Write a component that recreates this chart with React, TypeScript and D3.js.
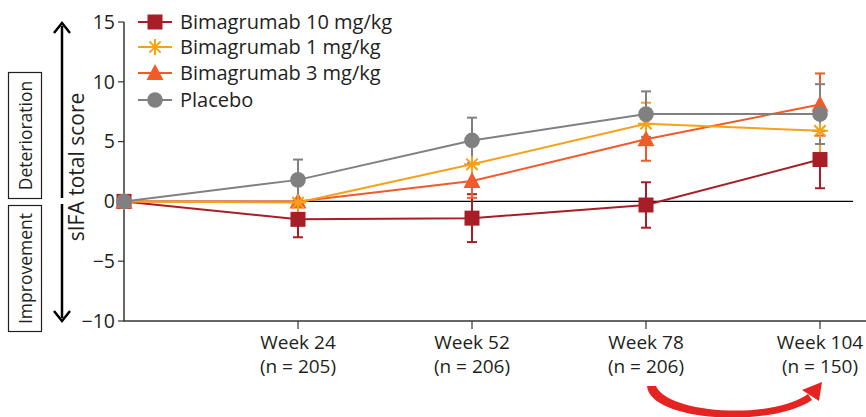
import React from "react";
import * as d3 from "d3";

const timepoints = ["Baseline", "Week 24", "Week 52", "Week 78", "Week 104"];
const nLabels = ["", "(n = 205)", "(n = 206)", "(n = 206)", "(n = 150)"];
const yTicks = [-10, -5, 0, 5, 10, 15];

const seriesNames = ["Bimagrumab 10 mg/kg", "Bimagrumab 1 mg/kg", "Bimagrumab 3 mg/kg", "Placebo"];
const bim10Mean = [0, -1.5, -1.4, -0.3, 3.5];
const bim10Err = [0, 1.5, 2.0, 1.9, 2.4];
const bim1Mean = [0, -0.1, 3.1, 6.5, 5.9];
const bim1Err = [0, 1.5, 1.8, 1.75, 1.9];
const bim3Mean = [0, 0.0, 1.7, 5.2, 8.1];
const bim3Err = [0, 1.4, 1.4, 1.8, 2.6];
const placeboMean = [0, 1.8, 5.1, 7.3, 7.3];
const placeboErr = [0, 1.7, 1.9, 1.9, 2.5];

const COLORS = {
  b10: "#a81e26",
  b1: "#f7a11a",
  b3: "#f15a29",
  pl: "#808080",
};

const FONT = "'Open Sans', 'Noto Sans', sans-serif";
const TEXT = "#231f20";

type Series = { key: string; name: string; mean: number[]; err: number[]; color: string; shape: string };

const series: Series[] = [
  { key: "b10", name: seriesNames[0], mean: bim10Mean, err: bim10Err, color: COLORS.b10, shape: "square" },
  { key: "b1", name: seriesNames[1], mean: bim1Mean, err: bim1Err, color: COLORS.b1, shape: "star" },
  { key: "b3", name: seriesNames[2], mean: bim3Mean, err: bim3Err, color: COLORS.b3, shape: "triangle" },
  { key: "pl", name: seriesNames[3], mean: placeboMean, err: placeboErr, color: COLORS.pl, shape: "circle" },
];
const drawOrder = ["b10", "b3", "b1", "pl"];

function Marker({ shape, x, y, color }: { shape: string; x: number; y: number; color: string }) {
  if (shape === "square") {
    return <rect x={x - 7.5} y={y - 7.5} width={15} height={15} fill={color} />;
  }
  if (shape === "circle") {
    return <circle cx={x} cy={y} r={7.8} fill={color} />;
  }
  if (shape === "triangle") {
    return <path d={`M${x},${y - 9} L${x + 8.5},${y + 7} L${x - 8.5},${y + 7} Z`} fill={color} />;
  }
  const r = 8;
  const d = Array.from({ length: 4 }, (_, i) => {
    const a = (i * Math.PI) / 4;
    const dx = Math.cos(a) * r;
    const dy = Math.sin(a) * r;
    return `M${x - dx},${y - dy}L${x + dx},${y + dy}`;
  }).join("");
  return <path d={d} stroke={color} strokeWidth={2} fill="none" />;
}

export default function App() {
  const W = 866;
  const H = 417;
  const x = d3.scalePoint<number>().domain(d3.range(timepoints.length)).range([124, 820]);
  const y = d3.scaleLinear().domain([-10, 15]).range([321, 22]);
  const line = d3
    .line<number>()
    .x((_, i) => x(i) as number)
    .y((d) => y(d));

  const ordered = drawOrder.map((k) => series.find((s) => s.key === k)!);
  const legendY = [22, 47, 73, 100];

  return (
    <svg
      width={W}
      height={H}
      style={{ position: "fixed", left: 0, top: 0, background: "#fff" }}
      fontFamily={FONT}
    >
      <rect width={W} height={H} fill="#fff" />
      {/* Left annotations */}
      <rect x={8.5} y={72.5} width={33} height={126} fill="none" stroke={TEXT} strokeWidth={1.2} />
      <text transform={`translate(32,135.5) rotate(-90)`} textAnchor="middle" fontSize={17.5} fill={TEXT}>
        Deterioration
      </text>
      <rect x={8.5} y={205.5} width={33} height={126} fill="none" stroke={TEXT} strokeWidth={1.2} />
      <text transform={`translate(32,268.5) rotate(-90)`} textAnchor="middle" fontSize={17.5} fill={TEXT}>
        Improvement
      </text>
      {/* vertical arrows */}
      <line x1={62} x2={62} y1={26} y2={198} stroke="#000" strokeWidth={2.5} />
      <path d="M54,33 L62,23 L70,33" fill="none" stroke="#000" strokeWidth={2.5} />
      <line x1={62} x2={62} y1={204} y2={318} stroke="#000" strokeWidth={2.5} />
      <path d="M54,311 L62,321 L70,311" fill="none" stroke="#000" strokeWidth={2.5} />
      {/* y title */}
      <text transform={`translate(84,167) rotate(-90)`} textAnchor="middle" fontSize={21} fill={TEXT}>
        sIFA total score
      </text>

      {/* y axis */}
      <line x1={124} x2={124} y1={y(15)} y2={y(-10) + 0.5} stroke="#333" strokeWidth={1.5} />
      {yTicks.map((t) => (
        <g key={t}>
          <line x1={118} x2={124} y1={y(t)} y2={y(t)} stroke="#333" strokeWidth={1.2} />
          <text x={115} y={y(t)} dy="0.35em" textAnchor="end" fontSize={19.5} fill={TEXT}>
            {t < 0 ? "\u2212" + Math.abs(t) : t}
          </text>
        </g>
      ))}

      {/* x axis */}
      <line x1={124} x2={W} y1={y(-10)} y2={y(-10)} stroke="#333" strokeWidth={1.5} />
      {timepoints.map((t, i) =>
        i === 0 ? null : (
          <g key={t}>
            <line x1={x(i)} x2={x(i)} y1={y(-10)} y2={y(-10) + 8} stroke="#333" strokeWidth={1.2} />
            <text x={x(i)} y={349} textAnchor="middle" fontSize={19} fill={TEXT}>
              {t}
            </text>
            <text x={x(i)} y={373} textAnchor="middle" fontSize={19} fill={TEXT}>
              {nLabels[i]}
            </text>
          </g>
        )
      )}

      {/* zero line */}
      <line x1={124} x2={853} y1={y(0)} y2={y(0)} stroke="#000" strokeWidth={1.3} />

      {/* error bars */}
      {ordered.map((s) => (
        <g key={s.key}>
          {s.mean.map((m, i) =>
            s.err[i] > 0 ? (
              <g key={i}>
                <line x1={x(i)} x2={x(i)} y1={y(m - s.err[i])} y2={y(m + s.err[i])} stroke={s.color} strokeWidth={2} />
                <line x1={(x(i) as number) - 5} x2={(x(i) as number) + 5} y1={y(m - s.err[i])} y2={y(m - s.err[i])} stroke={s.color} strokeWidth={2} />
                <line x1={(x(i) as number) - 5} x2={(x(i) as number) + 5} y1={y(m + s.err[i])} y2={y(m + s.err[i])} stroke={s.color} strokeWidth={2} />
              </g>
            ) : null
          )}
        </g>
      ))}
      {/* lines + markers */}
      {ordered.map((s) => (
        <g key={s.key + "l"}>
          <path d={line(s.mean) || ""} fill="none" stroke={s.color} strokeWidth={2} />
          {s.mean.map((m, i) => (
            <Marker key={i} shape={s.shape} x={x(i) as number} y={y(m)} color={s.color} />
          ))}
        </g>
      ))}

      {/* legend */}
      {series.map((s, i) => (
        <g key={s.key + "leg"}>
          <line x1={138} x2={172} y1={legendY[i]} y2={legendY[i]} stroke={s.color} strokeWidth={2} />
          <Marker shape={s.shape} x={155} y={legendY[i]} color={s.color} />
          <text x={180} y={legendY[i]} dy="0.35em" fontSize={20} fill={TEXT}>
            {s.name}
          </text>
        </g>
      ))}

      {/* red curved arrow (tapered) */}
      <path
        d="M647,386 L656,386 C668,414 772,420 808,394 L812,400 C772,428 650,422 647,386 Z"
        fill="#e52421"
      />
      <path d="M822,382 L819,401 L802,390 Z" fill="#e52421" />
    </svg>
  );
}
